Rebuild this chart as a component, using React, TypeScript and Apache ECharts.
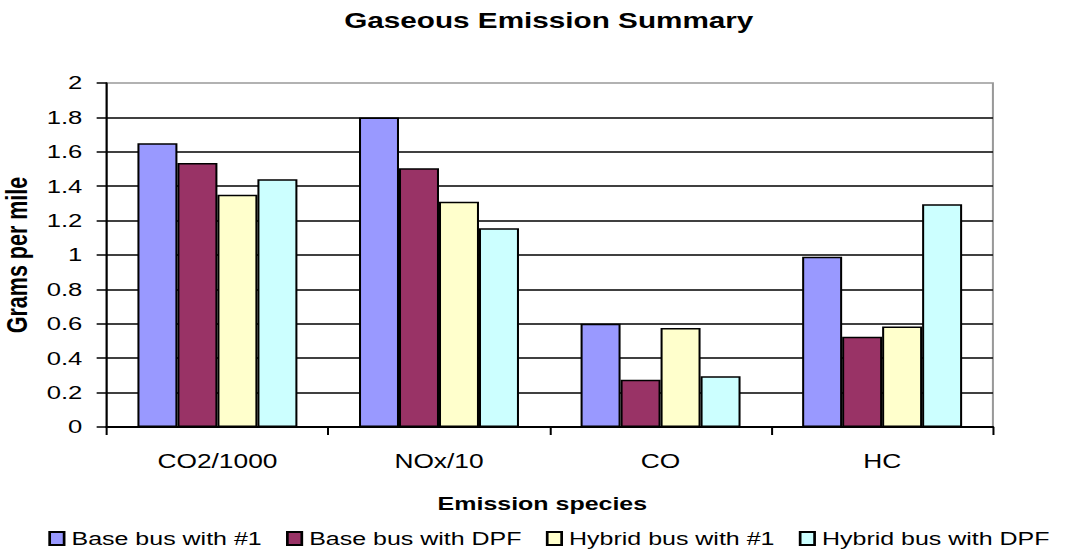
import React, { useEffect, useRef } from "react";
import * as echarts from "echarts";

// Emission species on the category axis
const categories = ["CO2/1000", "NOx/10", "CO", "HC"];

// Grams per mile for each bus configuration
const seriesNames = [
  "Base bus with #1",
  "Base bus with DPF",
  "Hybrid bus with #1",
  "Hybrid bus with DPF",
];
const baseBusNo1 = [1.65, 1.8, 0.6, 0.99];
const baseBusDpf = [1.535, 1.505, 0.275, 0.525];
const hybridBusNo1 = [1.35, 1.31, 0.575, 0.585];
const hybridBusDpf = [1.44, 1.155, 0.295, 1.295];

const seriesColors = ["#9999FF", "#993366", "#FFFFCC", "#CCFFFF"];

// Value axis range
const yMin = 0;
const yMax = 2;
const yStep = 0.2;

const FONT = "'Liberation Sans', Arial, Helvetica, sans-serif";

// The chart is laid out on a narrower canvas and stretched horizontally
const PAGE_W = 1065;
const PAGE_H = 550;
const CHART_W = 789;
const STRETCH_X = PAGE_W / CHART_W;

export default function App() {
  const ref = useRef<HTMLDivElement>(null);

  useEffect(() => {
    if (!ref.current) return;
    const chart = echarts.init(ref.current, null, { renderer: "svg" });
    const values = [baseBusNo1, baseBusDpf, hybridBusNo1, hybridBusDpf];

    chart.setOption({
      animation: false,
      backgroundColor: "#ffffff",
      textStyle: { fontFamily: FONT, color: "#000" },
      title: {
        text: "Gaseous Emission Summary",
        left: 250,
        top: 4,
        textStyle: {
          fontFamily: FONT,
          fontSize: 22,
          fontWeight: "bold",
          color: "#000",
        },
      },
      legend: {
        left: 35.8,
        top: 529,
        width: 760,
        padding: 0,
        icon: "rect",
        itemWidth: 10.7,
        itemHeight: 13,
        itemGap: 18,
        data: seriesNames,
        textStyle: {
          fontFamily: FONT,
          fontSize: 18.5,
          color: "#000",
          padding: [0, 0, 0, 0.5],
        },
      },
      grid: {
        left: 79,
        right: CHART_W - 735.6,
        top: 83,
        bottom: PAGE_H - 427,
        show: true,
        borderColor: "#999",
        borderWidth: 1.5,
        backgroundColor: "transparent",
        containLabel: false,
        outerBoundsMode: "none",
      },
      xAxis: {
        type: "category",
        data: categories,
        name: "Emission species",
        nameLocation: "middle",
        nameGap: 67,
        nameTextStyle: {
          fontFamily: FONT,
          fontSize: 18.5,
          fontWeight: "bold",
          color: "#000",
          padding: [0, 11, 0, 0],
        },
        axisLine: { show: true, lineStyle: { color: "#000", width: 2 } },
        axisTick: {
          show: true,
          length: 8,
          lineStyle: { color: "#000", width: 1.5 },
        },
        axisLabel: {
          fontFamily: FONT,
          fontSize: 19.5,
          color: "#000",
          margin: 24,
        },
        splitLine: { show: false },
      },
      yAxis: {
        type: "value",
        min: yMin,
        max: yMax,
        interval: yStep,
        name: "Grams per mile",
        nameLocation: "middle",
        nameRotate: 90,
        nameGap: 51.5,
        nameTextStyle: {
          fontFamily: FONT,
          fontSize: 21.5,
          fontWeight: "bold",
          color: "#000",
        },
        axisLine: { show: true, lineStyle: { color: "#000", width: 1.5 } },
        axisTick: {
          show: true,
          length: 7.4,
          lineStyle: { color: "#000", width: 1.5 },
        },
        axisLabel: {
          fontFamily: FONT,
          fontSize: 19,
          color: "#000",
          margin: 18,
        },
        splitLine: {
          show: true,
          showMaxLine: false,
          lineStyle: { color: "#000", width: 1.6 },
        },
      },
      series: seriesNames.map((name, i) => ({
        name,
        type: "bar",
        data: values[i],
        barGap: "0%",
        barCategoryGap: "27.8%",
        itemStyle: {
          color: seriesColors[i],
          borderColor: "#000",
          borderWidth: 1.5,
        },
      })),
    });

    return () => chart.dispose();
  }, []);

  return (
    <div
      style={{
        position: "absolute",
        left: 0,
        top: 0,
        width: PAGE_W,
        height: PAGE_H,
        overflow: "hidden",
        background: "#fff",
      }}
    >
      <div
        ref={ref}
        style={{
          width: CHART_W,
          height: PAGE_H,
          transform: `scaleX(${STRETCH_X})`,
          transformOrigin: "0 0",
        }}
      />
    </div>
  );
}
